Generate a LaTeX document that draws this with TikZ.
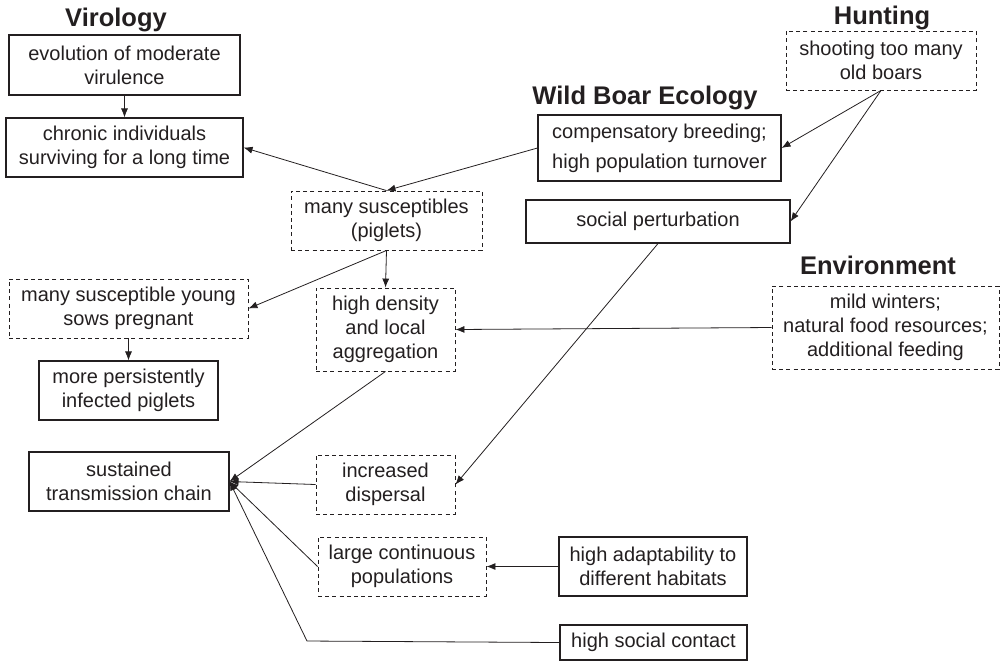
\documentclass[tikz,border=0pt]{standalone}
\usepackage{fontspec}
\setmainfont{Liberation Sans}
\usepackage{tikz}
\usetikzlibrary{positioning, arrows.meta, calc}
\definecolor{cLine}{RGB}{35,31,32}

\begin{document}
\begin{tikzpicture}[x=0.5pt, y=-0.5pt, thin, >={Latex[length=4.5pt,width=3.5pt]},
                    every node/.style={text=cLine},
                    box/.style={draw=cLine, line width=0.55pt, align=center, inner sep=0pt,
                                font=\fontsize{10}{12}\selectfont},
                    dbox/.style={box, line width=0.45pt, dash pattern=on 2pt off 1.6pt},
                    wh/.style 2 args={minimum width=#1pt, minimum height=#2pt},
                    head/.style={font=\fontsize{12.75}{15}\selectfont\bfseries}]
    \useasboundingbox (0,0) rectangle (1000,661);

    % Group Titles
    \node[head] (tVir) at (116,20)  {Virology};
    \node[head] (tHun) at (882,18)  {Hunting};
    \node[head] (tEco) at (645,98)  {Wild Boar Ecology};
    \node[head] (tEnv) at (878,265) {Environment};

    % Node Placements
    \node[box,  wh={115.5}{30}]   (evol)  at (124.5,65)    {evolution of moderate\\virulence};
    \node[box,  wh={118.5}{29.5}] (chron) at (124.5,147.5) {chronic individuals\\surviving for a long time};
    \node[dbox, wh={95}{29.5}]    (shoot) at (881,60.5)    {shooting too many\\old boars};
    \node[box,  wh={121.5}{33}]   (comp)  at (659.5,148)   {compensatory breeding;\\[3pt]high population turnover};
    \node[dbox, wh={95.5}{29.5}]  (susc)  at (386.5,220.5) {many susceptibles\\(piglets)};
    \node[box,  wh={132}{21.5}]   (soc)   at (658,221.5)   {social perturbation};
    \node[dbox, wh={113.5}{41.5}] (env)   at (885.5,327.5) {mild winters;\\natural food resources;\\additional feeding};
    \node[dbox, wh={69.5}{41.5}]  (dens)  at (385.5,329.5) {high density\\and local\\aggregation};
    \node[dbox, wh={119.5}{29.5}] (sows)  at (128.5,308.5) {many susceptible young\\sows pregnant};
    \node[box,  wh={89.5}{29.5}]  (pers)  at (128.5,390.5) {more persistently\\infected piglets};
    \node[box,  wh={100}{29.5}]   (sust)  at (129,481.5)   {sustained\\transmission chain};
    \node[dbox, wh={69.5}{29.5}]  (disp)  at (385.5,484.5) {increased\\dispersal};
    \node[dbox, wh={84}{29.5}]    (large) at (402,566.5)   {large continuous\\populations};
    \node[box,  wh={94}{29.5}]    (adapt) at (653,566.5)   {high adaptability to\\different habitats};
    \node[box,  wh={93.5}{17.5}]  (cont)  at (653.5,642.5) {high social contact};
    \coordinate (kink) at (307,641);

    % Graph Path Operations
    \path[->, color=cLine]
    (evol)  edge (chron)
    (susc.north) edge (chron.east)
    (comp.west)  edge (susc.north)
    (shoot.south) edge (comp.east)
                  edge (soc.east)
    (susc.south) edge (dens.north)
                 edge (sows.east)
    (env.west)  edge (dens.east)
    (sows)      edge (pers)
    (dens.south) edge (sust.east)
    (disp.west)  edge (sust.east)
    (large.west) edge (sust.east)
    (soc.south)  edge (disp.east)
    (adapt.west) edge (large.east);

    \draw[->, cLine] (cont.west) -- (kink) -- (sust.east);
\end{tikzpicture}
\end{document}
